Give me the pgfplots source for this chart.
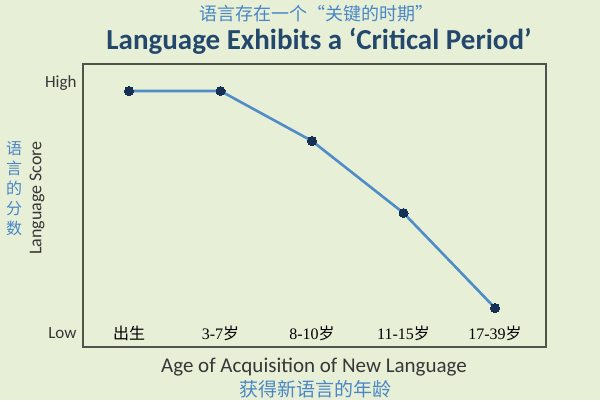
\documentclass[border=0pt]{standalone}
\usepackage{pgfplots}
\pgfplotsset{compat=1.18}
\usepackage{fontspec}
\setmainfont{Carlito}
\newfontfamily\cjk{Noto Sans CJK SC}
\newfontfamily\ser{Liberation Serif}
\definecolor{bg}{RGB}{231,240,215}
\definecolor{cnblue}{RGB}{74,134,197}
\definecolor{titleblue}{RGB}{36,72,108}
\definecolor{linec}{RGB}{80,140,200}
\definecolor{markc}{RGB}{22,48,85}
\definecolor{txt}{RGB}{55,55,55}
\definecolor{axisc}{RGB}{80,85,75}
\begin{document}
\begin{tikzpicture}[x=1pt,y=1pt]
\fill[bg] (0,0) rectangle (600,-400);
\begin{axis}[
  at={(83pt,-347pt)}, anchor=south west,
  scale only axis, width=463pt, height=283pt,
  xmin=-0.503, xmax=4.557, ymin=-0.56, ymax=10.76,
  xtick={0,1,2,3,4},
  xticklabels={{\cjk 出生},{\ser 3-7}{\cjk 岁},{\ser 8-10}{\cjk 岁},{\ser 11-15}{\cjk 岁},{\ser 17-39}{\cjk 岁}},
  ytick={0,10}, yticklabels={Low,High},
  major tick length=0pt,
  axis line style={draw=axisc, line width=1.3pt},
  xticklabel style={anchor=center, yshift=14pt, font=\fontsize{16}{16}\selectfont, text=black},
  yticklabel style={font=\fontsize{17}{17}\selectfont, text=txt, xshift=-3pt},
  clip=false,
]
\addplot[color=linec, line width=2.6pt, mark=*, mark size=4.5pt,
  mark options={fill=markc, draw=markc, line width=0pt}]
  coordinates {(0,9.68) (1,9.68) (2,7.68) (3,4.8) (4,1.0)};
\end{axis}
\node[font=\cjk\fontsize{18}{18}\selectfont, text=cnblue] at (316,-14) {语言存在一个“关键的时期”};
\node[font=\bfseries\fontsize{29}{29}\selectfont, text=titleblue] at (319,-41) {Language Exhibits a ‘Critical Period’};
\node[font=\fontsize{18}{18}\selectfont, text=txt, rotate=90] at (37,-198) {Language Score};
\node[font=\cjk\fontsize{16}{20}\selectfont, text=cnblue, align=center] at (14,-189) {语\\言\\的\\分\\数};
\node[font=\fontsize{21}{21}\selectfont, text=txt] at (314,-367) {Age of Acquisition of New Language};
\node[font=\cjk\fontsize{19}{19}\selectfont, text=cnblue] at (315,-389) {获得新语言的年龄};
\end{tikzpicture}
\end{document}
